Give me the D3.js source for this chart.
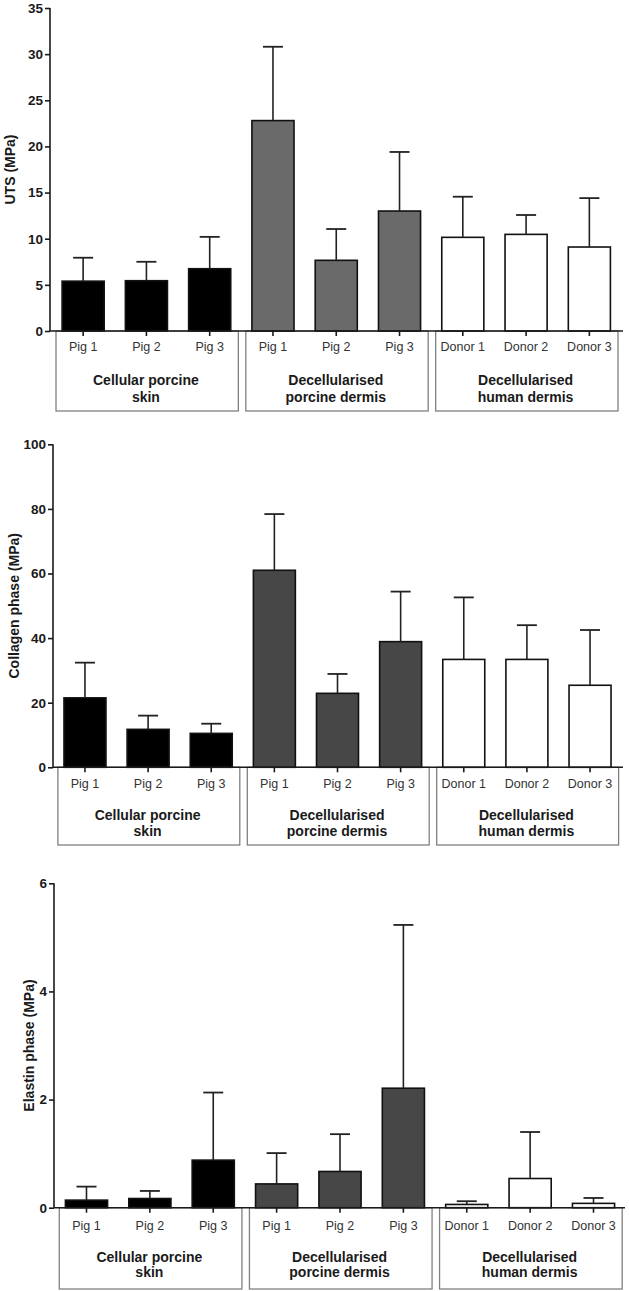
<!DOCTYPE html>
<html>
<head>
<meta charset="utf-8">
<script src="https://cdn.jsdelivr.net/npm/d3@7/dist/d3.min.js"></script>
<style>
  body { margin: 0; background: #fff; }
  svg { display: block; }
  text { font-family: "Liberation Sans", Arial, sans-serif; }
</style>
</head>
<body>
<svg id="chart" width="629" height="1291"></svg>
<script>
// ---------- data ----------
const categories = ["Pig 1", "Pig 2", "Pig 3", "Pig 1", "Pig 2", "Pig 3", "Donor 1", "Donor 2", "Donor 3"];
const groupOf = [0, 0, 0, 1, 1, 1, 2, 2, 2];
const groupLabels = [["Cellular porcine", "skin"], ["Decellularised", "porcine dermis"], ["Decellularised", "human dermis"]];

const utsMean = [5.4, 5.45, 6.75, 22.8, 7.66, 13.0, 10.15, 10.47, 9.1];
const utsSD   = [2.54, 2.05, 3.45, 8.0, 3.39, 6.4, 4.4, 2.1, 5.3];
const utsTicks = [0, 5, 10, 15, 20, 25, 30, 35];

const collagenMean = [21.5, 11.75, 10.5, 61.0, 22.9, 38.9, 33.4, 33.4, 25.4];
const collagenSD   = [10.9, 4.25, 3.0, 17.4, 6.0, 15.5, 19.2, 10.6, 17.1];
const collagenTicks = [0, 20, 40, 60, 80, 100];

const elastinMean = [0.14, 0.17, 0.88, 0.44, 0.67, 2.21, 0.06, 0.54, 0.08];
const elastinSD   = [0.25, 0.14, 1.25, 0.57, 0.69, 3.02, 0.06, 0.86, 0.10];
const elastinTicks = [0, 2, 4, 6];

// ---------- layout ----------
const panels = [
  { mean: utsMean, sd: utsSD, ticks: utsTicks, label: "UTS (MPa)",
    axisX: 50, y0: 331, yTop: 8, xr: [51.5, 621], baseEnd: 623,
    catY: 347, g1: 380, g2: 397, boxBottom: 411, ylx: 10, gray: "#6a6a6a" },
  { mean: collagenMean, sd: collagenSD, ticks: collagenTicks, label: "Collagen phase (MPa)",
    axisX: 53, y0: 767.3, yTop: 444.3, xr: [53.4, 621.6], baseEnd: 623,
    catY: 784, g1: 815, g2: 831, boxBottom: 845, ylx: 14, gray: "#474747" },
  { mean: elastinMean, sd: elastinSD, ticks: elastinTicks, label: "Elastin phase (MPa)",
    axisX: 54, y0: 1207.7, yTop: 883.3, xr: [54.8, 625.2], baseEnd: 625,
    catY: 1226, g1: 1257, g2: 1272, boxBottom: 1289, ylx: 29, gray: "#474747" }
];

const svg = d3.select("#chart");
const axisColor = "#1a1a1a";

panels.forEach(p => {
  const g = svg.append("g");
  const idx = d3.range(categories.length);
  const x = d3.scaleBand().domain(idx).range(p.xr).paddingInner(0.335).paddingOuter(0.1675);
  const step = x.step();
  const y = d3.scaleLinear().domain([0, d3.max(p.ticks)]).range([p.y0, p.yTop]);

  // group boxes
  [0, 1, 2].forEach(gi => {
    const first = gi * 3, last = gi * 3 + 2;
    const left = x(first) - x.paddingOuter() * step + 5;
    const bandStart = p.xr[0] + first * step;
    const bandEnd = p.xr[0] + (last + 1) * step;
    g.append("rect")
      .attr("x", bandStart + 4.5)
      .attr("y", p.y0)
      .attr("width", bandEnd - bandStart - 7.5)
      .attr("height", p.boxBottom - p.y0)
      .attr("fill", "none")
      .attr("stroke", "#808080")
      .attr("stroke-width", 1.3);
    const cx = (bandStart + bandEnd) / 2 - 0.5;
    g.append("text").attr("x", cx).attr("y", p.g1).attr("dy", "0.35em")
      .attr("text-anchor", "middle").attr("font-size", 14).attr("font-weight", "bold")
      .attr("fill", "#1a1a1a").text(groupLabels[gi][0]);
    g.append("text").attr("x", cx).attr("y", p.g2).attr("dy", "0.35em")
      .attr("text-anchor", "middle").attr("font-size", 14).attr("font-weight", "bold")
      .attr("fill", "#1a1a1a").text(groupLabels[gi][1]);
  });

  // bars
  const fills = ["#000000", p.gray, "#ffffff"];
  g.selectAll("rect.bar").data(idx).enter().append("rect")
    .attr("class", "bar")
    .attr("x", i => x(i))
    .attr("y", i => y(p.mean[i]))
    .attr("width", x.bandwidth())
    .attr("height", i => y(0) - y(p.mean[i]))
    .attr("fill", i => fills[groupOf[i]])
    .attr("stroke", "#111")
    .attr("stroke-width", 1.6);

  // error bars
  const cap = 20;
  idx.forEach(i => {
    const cx = x(i) + x.bandwidth() / 2;
    const top = y(p.mean[i] + p.sd[i]);
    g.append("line").attr("x1", cx).attr("x2", cx)
      .attr("y1", y(p.mean[i])).attr("y2", top)
      .attr("stroke", "#222").attr("stroke-width", 1.6);
    g.append("line").attr("x1", cx - cap / 2).attr("x2", cx + cap / 2)
      .attr("y1", top).attr("y2", top)
      .attr("stroke", "#222").attr("stroke-width", 1.8);
  });

  // x baseline + ticks
  g.append("line").attr("x1", p.axisX).attr("x2", p.baseEnd)
    .attr("y1", p.y0).attr("y2", p.y0)
    .attr("stroke", axisColor).attr("stroke-width", 1.6);
  idx.forEach(i => {
    const cx = x(i) + x.bandwidth() / 2;
    g.append("line").attr("x1", cx).attr("x2", cx)
      .attr("y1", p.y0).attr("y2", p.y0 + 5)
      .attr("stroke", axisColor).attr("stroke-width", 1.6);
    g.append("text").attr("x", cx).attr("y", p.catY).attr("dy", "0.35em")
      .attr("text-anchor", "middle").attr("font-size", 12.5)
      .attr("fill", "#333").text(categories[i]);
  });

  // y axis
  const yAxis = d3.axisLeft(y).tickValues(p.ticks).tickSize(5).tickPadding(2).tickFormat(d3.format("d"));
  const ya = g.append("g").attr("transform", `translate(${p.axisX},0)`).call(yAxis);
  ya.select(".domain").attr("stroke", axisColor).attr("stroke-width", 1.6)
    .attr("d", `M0,${p.y0}V${p.yTop}`);
  ya.selectAll(".tick line").attr("stroke", axisColor).attr("stroke-width", 1.6);
  ya.selectAll(".tick text").attr("font-size", 13.5).attr("font-weight", "bold")
    .attr("fill", "#1a1a1a").attr("font-family", "'Liberation Sans', Arial, sans-serif");

  // y label
  const midY = (p.y0 + p.yTop) / 2;
  g.append("text")
    .attr("transform", `translate(${p.ylx},${midY}) rotate(-90)`)
    .attr("text-anchor", "middle").attr("dy", "0.35em")
    .attr("font-size", 14).attr("font-weight", "bold").attr("fill", "#1a1a1a")
    .text(p.label);
});
</script>
</body>
</html>
